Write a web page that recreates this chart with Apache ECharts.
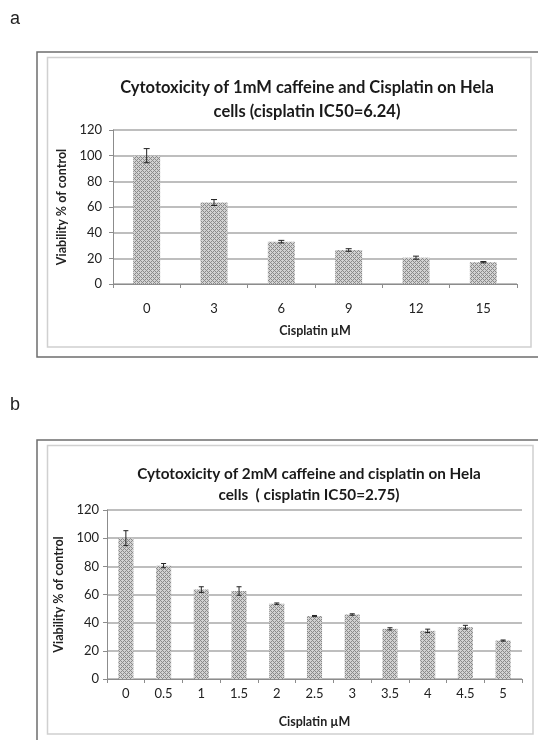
<!DOCTYPE html>
<html>
<head>
<meta charset="utf-8">
<script src="https://cdn.jsdelivr.net/npm/echarts@6/dist/echarts.min.js"></script>
<style>
  html, body { margin: 0; padding: 0; background: #fff; }
  #chart { width: 538px; height: 740px; }
</style>
</head>
<body>
<div id="chart"></div>
<script>
// panel a: 1mM caffeine
const doseA = ['0', '3', '6', '9', '12', '15']
const viabA = [100, 63.5, 33, 26.5, 20.5, 17]
const errA = [5.5, 2.3, 1, 1, 1.2, 0.5]

// panel b: 2mM caffeine
const doseB = ['0', '0.5', '1', '1.5', '2', '2.5', '3', '3.5', '4', '4.5', '5']
const viabB = [100, 80.5, 63.5, 62.5, 53.5, 44.7, 45.8, 35.6, 34.2, 36.8, 27.3]
const errB = [5.3, 1.5, 2, 3, 0.5, 0.4, 0.5, 0.8, 1.2, 1.3, 0.4]

const yTicks = [0, 20, 40, 60, 80, 100, 120]

const font = 'Lato, "Open Sans", sans-serif'

// crosshatch grey fill like the excel pattern
function makePattern() {
	const c = document.createElement('canvas')
	c.width = 4
	c.height = 4
	const ctx = c.getContext('2d')
	ctx.fillStyle = '#d2d2d2'
	ctx.fillRect(0, 0, 4, 4)
	ctx.fillStyle = '#8a8a8a'
	for (let x = 0; x < 4; x++) {
		for (let y = 0; y < 4; y++) {
			if ((x + y) % 4 === 0 || (x - y + 4) % 4 === 0) ctx.fillRect(x, y, 1, 1)
		}
	}
	return c
}
const pattern = { image: makePattern(), repeat: 'repeat' }

function errorItem(capW) {
	return function (params, api) {
		const x = api.value(0)
		const lo = api.coord([x, api.value(1)])
		const hi = api.coord([x, api.value(2)])
		const st = { stroke: '#222', lineWidth: 1 }
		return {
			type: 'group',
			children: [
				{ type: 'line', shape: { x1: hi[0], y1: hi[1], x2: lo[0], y2: lo[1] }, style: st },
				{ type: 'line', shape: { x1: hi[0] - capW, y1: hi[1], x2: hi[0] + capW, y2: hi[1] }, style: st },
				{ type: 'line', shape: { x1: lo[0] - capW, y1: lo[1], x2: lo[0] + capW, y2: lo[1] }, style: st },
			],
		}
	}
}

function xAxisOf(idx, data, margin, gap) {
	return {
		type: 'category',
		gridIndex: idx,
		data: data,
		axisLine: { lineStyle: { color: '#8c8c8c', width: 1 } },
		axisTick: { show: true, length: 4, lineStyle: { color: '#8c8c8c' } },
		axisLabel: { color: '#222', fontSize: 13, fontFamily: font, margin: margin },
		name: 'Cisplatin µM',
		nameLocation: 'middle',
		nameGap: gap,
		nameTextStyle: { color: '#222', fontSize: 12.5, fontWeight: 'bold', fontFamily: font },
	}
}

function yAxisOf(idx, margin, gap) {
	return {
		type: 'value',
		gridIndex: idx,
		min: 0,
		max: 120,
		interval: 20,
		axisLine: { show: true, lineStyle: { color: '#8c8c8c', width: 1 } },
		axisTick: { show: true, length: 4, lineStyle: { color: '#8c8c8c' } },
		axisLabel: {
			color: '#222', fontSize: 13, fontFamily: font, margin: margin,
			formatter: v => (yTicks.includes(v) ? String(v) : ''),
		},
		splitLine: { lineStyle: { color: '#a8a8a8', width: 1.5 } },
		name: 'Viability % of control',
		nameLocation: 'middle',
		nameGap: gap,
		nameTextStyle: { color: '#222', fontSize: 12.5, fontWeight: 'bold', fontFamily: font },
	}
}

const chart = echarts.init(document.getElementById('chart'))

const option = {
	backgroundColor: '#fff',
	animation: false,
	title: [
		{
			text: 'Cytotoxicity of 1mM caffeine and Cisplatin on Hela\ncells (cisplatin IC50=6.24)',
			left: 302,
			top: 71,
			textAlign: 'center',
			textStyle: { fontSize: 16.5, fontWeight: 'bold', color: '#1a1a1a', fontFamily: font, lineHeight: 24 },
		},
		{
			text: 'Cytotoxicity of 2mM caffeine and cisplatin on Hela\ncells  ( cisplatin IC50=2.75)',
			left: 304,
			top: 459,
			textAlign: 'center',
			textStyle: { fontSize: 15.3, fontWeight: 'bold', color: '#1a1a1a', fontFamily: font, lineHeight: 21 },
		},
	],
	graphic: [
		{ type: 'text', left: 10, top: 10, style: { text: 'a', fontSize: 18, fontFamily: 'Liberation Sans', fill: '#222' } },
		{ type: 'text', left: 10, top: 396, style: { text: 'b', fontSize: 18, fontFamily: 'Liberation Sans', fill: '#222' } },
		{ type: 'rect', shape: { x: 37, y: 52, width: 520, height: 305 }, style: { fill: 'none', stroke: '#6e6e6e', lineWidth: 1.5 } },
		{ type: 'rect', shape: { x: 47.5, y: 57.5, width: 483.5, height: 289.5 }, style: { fill: 'none', stroke: '#d0d0d0', lineWidth: 1.5 } },
		{ type: 'rect', shape: { x: 37, y: 440, width: 520, height: 320 }, style: { fill: 'none', stroke: '#6e6e6e', lineWidth: 1.5 } },
		{ type: 'rect', shape: { x: 47.5, y: 445.5, width: 485.5, height: 288.5 }, style: { fill: 'none', stroke: '#d0d0d0', lineWidth: 1.5 } },
	],
	grid: [
		{ left: 113, top: 130, width: 404, height: 154 },
		{ left: 107, top: 510, width: 415, height: 169 },
	],
	xAxis: [xAxisOf(0, doseA, 18, 40), xAxisOf(1, doseB, 8, 36)],
	yAxis: [yAxisOf(0, 11, 37), yAxisOf(1, 8, 34)],
	series: [
		{
			type: 'bar',
			xAxisIndex: 0,
			yAxisIndex: 0,
			data: viabA,
			barCategoryGap: '60%',
			itemStyle: { color: pattern },
		},
		{
			type: 'custom',
			xAxisIndex: 0,
			yAxisIndex: 0,
			data: viabA.map((v, i) => [i, v - errA[i], v + errA[i]]),
			renderItem: errorItem(3),
			z: 5,
		},
		{
			type: 'bar',
			xAxisIndex: 1,
			yAxisIndex: 1,
			data: viabB,
			barCategoryGap: '60%',
			itemStyle: { color: pattern },
		},
		{
			type: 'custom',
			xAxisIndex: 1,
			yAxisIndex: 1,
			data: viabB.map((v, i) => [i, v - errB[i], v + errB[i]]),
			renderItem: errorItem(2.5),
			z: 5,
		},
	],
}

chart.setOption(option)
</script>
</body>
</html>
